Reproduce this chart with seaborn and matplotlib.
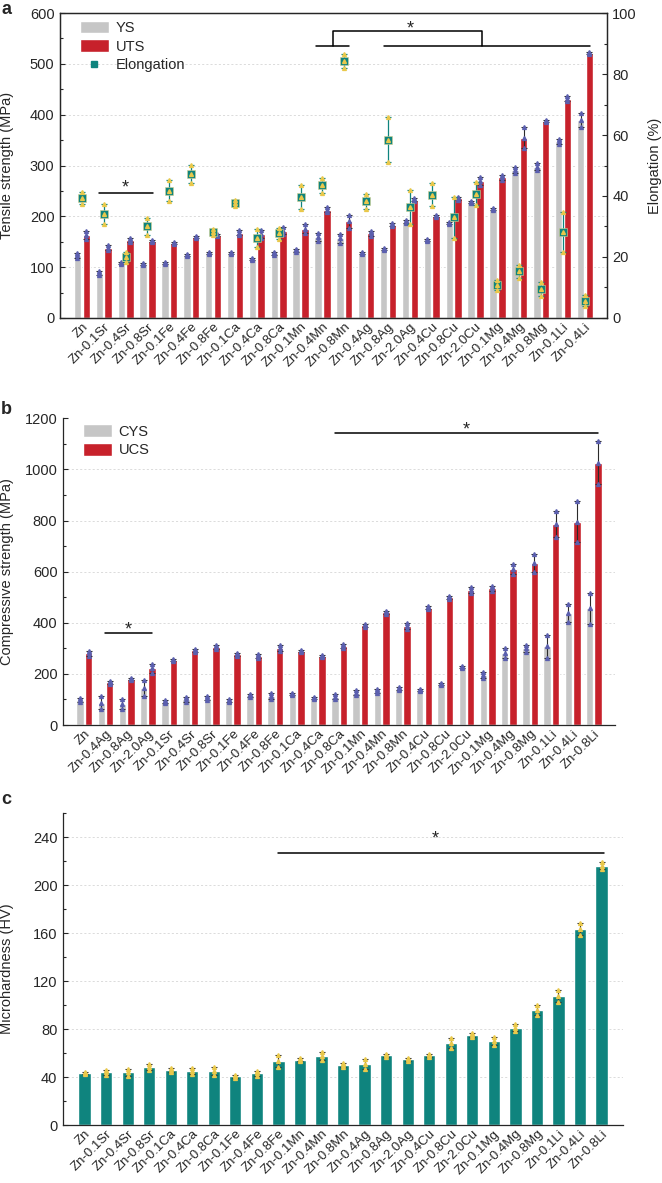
import numpy as np
import pandas as pd
import matplotlib
matplotlib.use("Agg")
import matplotlib.pyplot as plt
import seaborn as sns
from matplotlib.patches import Patch
from matplotlib.lines import Line2D
from matplotlib.ticker import MultipleLocator

# --- panel a: tensile test ---
tensile_alloys = ["Zn", "Zn-0.1Sr", "Zn-0.4Sr", "Zn-0.8Sr", "Zn-0.1Fe", "Zn-0.4Fe", "Zn-0.8Fe",
                  "Zn-0.1Ca", "Zn-0.4Ca", "Zn-0.8Ca", "Zn-0.1Mn", "Zn-0.4Mn", "Zn-0.8Mn",
                  "Zn-0.4Ag", "Zn-0.8Ag", "Zn-2.0Ag", "Zn-0.4Cu", "Zn-0.8Cu", "Zn-2.0Cu",
                  "Zn-0.1Mg", "Zn-0.4Mg", "Zn-0.8Mg", "Zn-0.1Li", "Zn-0.4Li"]
ys = [123, 88, 108, 107, 109, 123, 128, 127, 116, 127, 133, 160, 157, 127, 135, 189,
      154, 187, 228, 215, 292, 298, 348, 389]
ys_err = [5, 4, 2, 2, 2, 2, 2, 2, 2, 3, 3, 8, 9, 2, 2, 3, 2, 2, 2, 2, 6, 6, 5, 14]
uts = [164, 138, 154, 151, 148, 159, 164, 168, 165, 172, 176, 213, 190, 167, 183, 233,
       200, 236, 270, 277, 355, 387, 431, 521]
uts_err = [8, 5, 4, 2, 2, 2, 2, 5, 8, 7, 9, 5, 12, 5, 3, 3, 2, 3, 8, 5, 20, 2, 5, 2]
elong = [39.3, 34.0, 20.0, 30.0, 41.8, 47.3, 28.2, 37.7, 26.2, 27.8, 39.6, 43.5, 84.2,
         38.2, 58.4, 36.5, 40.4, 33.0, 40.8, 10.7, 15.3, 9.5, 28.1, 5.7]
elong_err = [2.0, 3.3, 1.8, 2.9, 3.3, 2.9, 1.0, 1.0, 2.9, 1.8, 4.0, 2.5, 2.3, 2.5, 7.4,
             5.6, 3.8, 6.7, 3.8, 1.6, 2.2, 2.2, 6.5, 1.9]

# --- panel b: compression test ---
comp_alloys = ["Zn", "Zn-0.4Ag", "Zn-0.8Ag", "Zn-2.0Ag", "Zn-0.1Sr", "Zn-0.4Sr", "Zn-0.8Sr",
               "Zn-0.1Fe", "Zn-0.4Fe", "Zn-0.8Fe", "Zn-0.1Ca", "Zn-0.4Ca", "Zn-0.8Ca",
               "Zn-0.1Mn", "Zn-0.4Mn", "Zn-0.8Mn", "Zn-0.4Cu", "Zn-0.8Cu", "Zn-2.0Cu",
               "Zn-0.1Mg", "Zn-0.4Mg", "Zn-0.8Mg", "Zn-0.1Li", "Zn-0.4Li", "Zn-0.8Li"]
cys = [98, 88, 82, 145, 92, 100, 106, 95, 117, 112, 121, 106, 111, 127, 134, 143, 137,
       159, 228, 196, 283, 300, 309, 437, 456]
cys_err = [8, 25, 20, 30, 5, 8, 8, 5, 6, 12, 4, 5, 10, 10, 8, 6, 4, 4, 4, 10, 20, 15,
           45, 35, 60]
ucs = [280, 167, 180, 222, 254, 293, 304, 277, 270, 300, 290, 271, 310, 391, 441, 389,
       459, 500, 528, 535, 609, 633, 786, 796, 1027]
ucs_err = [10, 5, 5, 18, 5, 6, 8, 6, 8, 12, 4, 4, 8, 6, 6, 12, 5, 5, 12, 10, 20, 35,
           50, 80, 85]

# --- panel c: microhardness ---
hard_alloys = ["Zn", "Zn-0.1Sr", "Zn-0.4Sr", "Zn-0.8Sr", "Zn-0.1Ca", "Zn-0.4Ca", "Zn-0.8Ca",
               "Zn-0.1Fe", "Zn-0.4Fe", "Zn-0.8Fe", "Zn-0.1Mn", "Zn-0.4Mn", "Zn-0.8Mn",
               "Zn-0.4Ag", "Zn-0.8Ag", "Zn-2.0Ag", "Zn-0.4Cu", "Zn-0.8Cu", "Zn-2.0Cu",
               "Zn-0.1Mg", "Zn-0.4Mg", "Zn-0.8Mg", "Zn-0.1Li", "Zn-0.4Li", "Zn-0.8Li"]
hv = [43.6, 44.0, 44.0, 48.4, 45.9, 44.8, 45.0, 40.6, 43.0, 53.0, 54.5, 57.3, 50.0,
      50.8, 58.0, 54.7, 58.0, 68.6, 75.0, 70.0, 81.0, 95.8, 107.5, 163.3, 216.0]
hv_err = [1, 2, 3, 2.5, 2, 2.5, 3.5, 1.5, 2, 5, 1, 3.5, 2, 4, 1.5, 1.5, 1.5, 4, 1.5,
          3, 3, 4, 5, 5, 3]

GRAY = '#c6c6c6'
RED = '#c7212b'
TEAL = '#0f847e'
YELLOW = '#e9c84b'
DOT = '#5b5fae'
ERR = '#2b2b2b'

sns.set_style("ticks")
plt.rcParams['font.family'] = ['Liberation Sans', 'DejaVu Sans']
plt.rcParams['font.size'] = 10
plt.rcParams['axes.linewidth'] = 0.9


def style_axis(ax, labels, ymax, major, minor):
    ax.set_xlim(-1, len(labels))
    ax.set_ylim(0, ymax)
    ax.yaxis.set_major_locator(MultipleLocator(major))
    ax.yaxis.set_minor_locator(MultipleLocator(minor))
    ax.tick_params(axis='y', which='major', direction='in', length=3.5, width=0.8,
                   labelsize=10.5, pad=4)
    ax.tick_params(axis='y', which='minor', direction='in', length=2.2, width=0.8)
    ax.tick_params(axis='x', length=0, labelsize=9.5, pad=2)
    ax.set_xticks(range(len(labels)))
    ax.set_xticklabels(labels, rotation=45, ha='right', rotation_mode='anchor')
    ax.set_xlabel('')
    for g in np.arange(major, ymax, major):
        ax.axhline(g, color='#d6d6d6', lw=0.6, ls=(0, (2.5, 2.5)), zorder=0)


def draw_errors(ax, x, vals, errs, dot_color, cap_color):
    ax.errorbar(x, vals, yerr=errs, fmt='none', ecolor=cap_color, elinewidth=0.8,
                capsize=2.5, capthick=0.8, zorder=4)
    v = np.array(vals, dtype=float)
    e = np.array(errs, dtype=float)
    ax.plot(np.tile(x, 3), np.concatenate([v - e, v, v + e]), ls='none', marker='^',
            ms=2.8, color=dot_color, zorder=5)


def sig_line(ax, pts, star_xy=None, fs=13):
    xs, ys_ = zip(*pts)
    ax.plot(xs, ys_, color='black', lw=1.1, zorder=6, clip_on=False)
    if star_xy is not None:
        ax.text(star_xy[0], star_xy[1], '*', ha='center', va='baseline', fontsize=fs, zorder=6)


fig = plt.figure(figsize=(6.62, 11.83), dpi=100)
ax_a = fig.add_axes([0.0906, 0.7312, 0.826, 0.2578])
ax_b = fig.add_axes([0.0952, 0.3871, 0.834, 0.2593])
ax_c = fig.add_axes([0.0952, 0.0490, 0.846, 0.2637])

# ---------------- a ----------------
na = len(tensile_alloys)
df_a = pd.DataFrame({'alloy': tensile_alloys * 2,
                     'kind': ['YS'] * na + ['UTS'] * na,
                     'value': ys + uts})
sns.barplot(data=df_a, x='alloy', y='value', hue='kind', order=tensile_alloys,
            hue_order=['YS', 'UTS'], palette={'YS': GRAY, 'UTS': RED}, width=0.8,
            gap=0.15, errorbar=None, saturation=1, legend=False, ax=ax_a, zorder=2)
xa = np.arange(na)
draw_errors(ax_a, xa - 0.2, ys, ys_err, DOT, ERR)
draw_errors(ax_a, xa + 0.2, uts, uts_err, DOT, ERR)
style_axis(ax_a, tensile_alloys, 600, 100, 50)
ax_a.set_ylabel('Tensile strength (MPa)', fontsize=10.5)
ax_a.yaxis.set_label_coords(-0.084, 0.5)

ax2 = ax_a.twinx()
ax2.errorbar(xa, elong, yerr=elong_err, fmt='none', ecolor=TEAL, elinewidth=0.9,
             capsize=2.5, capthick=0.9, zorder=3)
sns.scatterplot(x=xa, y=elong, marker='s', color=TEAL, s=30, edgecolor='#d9d28f',
                linewidth=0.4, ax=ax2, zorder=4)
el = np.array(elong)
ee = np.array(elong_err)
ax2.plot(np.tile(xa, 3), np.concatenate([el - ee, el, el + ee]), ls='none', marker='^',
         ms=2.8, color=YELLOW, zorder=5)
ax2.set_ylim(0, 100)
ax2.set_xlim(-1, na)
ax2.yaxis.set_major_locator(MultipleLocator(20))
ax2.yaxis.set_minor_locator(MultipleLocator(10))
ax2.tick_params(axis='y', which='major', direction='in', length=3.5, width=0.8,
                labelsize=10.5, pad=4)
ax2.tick_params(axis='y', which='minor', direction='in', length=2.2, width=0.8)
ax2.set_ylabel('Elongation (%)', fontsize=10.5)
ax2.yaxis.set_label_coords(1.075, 0.5)
for s in ax2.spines.values():
    s.set_linewidth(0.9)

sig_line(ax_a, [(0.8, 246), (3.26, 246)], (2.0, 246))
sig_line(ax_a, [(10.7, 536), (12.2, 536)])
sig_line(ax_a, [(11.46, 536), (11.46, 565), (18.3, 565), (18.3, 536)], (15.0, 559))
sig_line(ax_a, [(13.8, 536), (23.25, 536)])

ax_a.legend(handles=[Patch(fc=GRAY, label='YS'), Patch(fc=RED, label='UTS'),
                     Line2D([], [], marker='s', color=TEAL, ls='none', ms=5, label='Elongation')],
            loc='upper left', bbox_to_anchor=(0.036, 0.975), frameon=False, fontsize=10.5,
            handlelength=2.0, handleheight=0.95, labelspacing=0.3, handletextpad=0.45,
            borderaxespad=0, borderpad=0)

# ---------------- b ----------------
nb = len(comp_alloys)
df_b = pd.DataFrame({'alloy': comp_alloys * 2,
                     'kind': ['CYS'] * nb + ['UCS'] * nb,
                     'value': cys + ucs})
sns.barplot(data=df_b, x='alloy', y='value', hue='kind', order=comp_alloys,
            hue_order=['CYS', 'UCS'], palette={'CYS': GRAY, 'UCS': RED}, width=0.8,
            gap=0.125, errorbar=None, saturation=1, legend=False, ax=ax_b, zorder=2)
xb = np.arange(nb)
draw_errors(ax_b, xb - 0.2, cys, cys_err, DOT, ERR)
draw_errors(ax_b, xb + 0.2, ucs, ucs_err, DOT, ERR)
style_axis(ax_b, comp_alloys, 1200, 200, 100)
ax_b.spines['top'].set_visible(False)
ax_b.spines['right'].set_visible(False)
ax_b.set_ylabel('Compressive strength (MPa)', fontsize=10.5)
ax_b.yaxis.set_label_coords(-0.088, 0.5)
sig_line(ax_b, [(0.97, 360), (3.18, 360)], (2.07, 356))
sig_line(ax_b, [(11.8, 1142), (24.2, 1142)], (18.0, 1138))
ax_b.legend(handles=[Patch(fc=GRAY, label='CYS'), Patch(fc=RED, label='UCS')],
            loc='upper left', bbox_to_anchor=(0.036, 0.98), frameon=False, fontsize=10.5,
            handlelength=2.0, handleheight=0.95, labelspacing=0.3, handletextpad=0.45,
            borderaxespad=0, borderpad=0)

# ---------------- c ----------------
nc = len(hard_alloys)
df_c = pd.DataFrame({'alloy': hard_alloys, 'hv': hv})
sns.barplot(data=df_c, x='alloy', y='hv', order=hard_alloys, color=TEAL, width=0.57,
            errorbar=None, saturation=1, ax=ax_c, zorder=2)
xc = np.arange(nc)
draw_errors(ax_c, xc, hv, hv_err, YELLOW, ERR)
style_axis(ax_c, hard_alloys, 260, 40, 20)
ax_c.spines['top'].set_visible(False)
ax_c.spines['right'].set_visible(False)
ax_c.set_ylabel('Microhardness (HV)', fontsize=10.5)
ax_c.yaxis.set_label_coords(-0.0875, 0.5)
sig_line(ax_c, [(8.96, 227), (24.1, 227)], (16.3, 235))

for lab, yy in [('a', 10), ('b', 409), ('c', 800)]:
    fig.text(6 / 662, 1 - yy / 1183, lab, fontsize=13, fontweight='bold', ha='center', va='center')

fig.savefig('out.png', dpi=100)
